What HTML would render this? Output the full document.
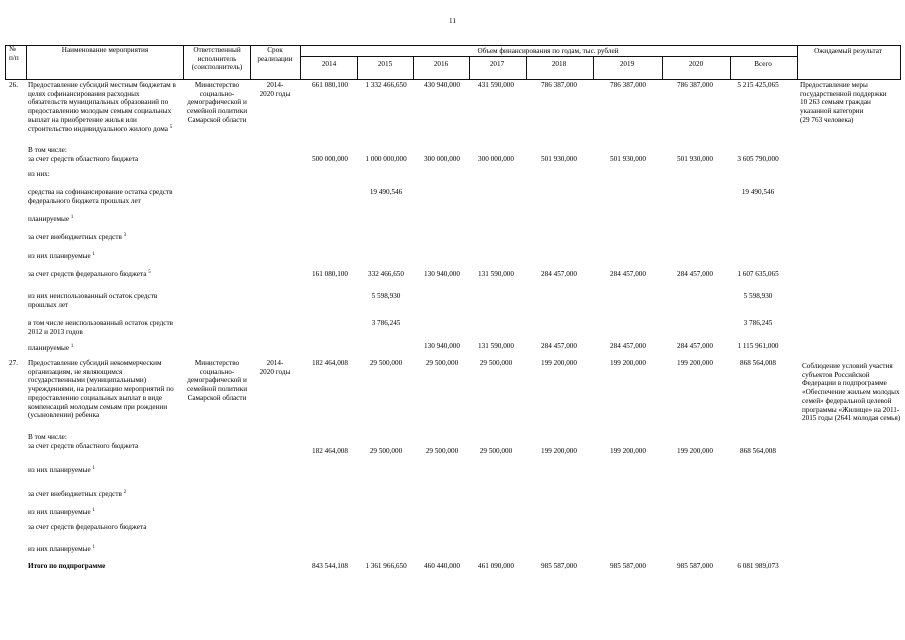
<!DOCTYPE html>
<html><head><meta charset="utf-8"><style>
body{margin:0;width:905px;height:640px;background:#fff;position:relative;overflow:hidden;font-family:"Liberation Serif","DejaVu Serif",serif;color:#000;font-size:7.2px;line-height:8.7px}
.t{position:absolute;white-space:nowrap}
.n{position:absolute;white-space:nowrap;transform:translateX(-50%)}
.c{position:absolute;white-space:nowrap;text-align:center;transform:translateX(-50%)}
.h{position:absolute;background:#111;height:1px}
.v{position:absolute;background:#111;width:1px}
sup{font-size:4.8px;vertical-align:3px;line-height:0}
</style></head><body>
<div class="t" style="left:449px;top:17px">11</div>
<div class="h" style="left:5px;top:45px;width:896px"></div>
<div class="h" style="left:300px;top:56px;width:497px"></div>
<div class="h" style="left:5px;top:79px;width:896px"></div>
<div class="v" style="left:5px;top:45px;height:35px"></div>
<div class="v" style="left:26px;top:45px;height:35px"></div>
<div class="v" style="left:183px;top:45px;height:35px"></div>
<div class="v" style="left:250px;top:45px;height:35px"></div>
<div class="v" style="left:300px;top:45px;height:35px"></div>
<div class="v" style="left:357px;top:56px;height:24px"></div>
<div class="v" style="left:413px;top:56px;height:24px"></div>
<div class="v" style="left:469px;top:56px;height:24px"></div>
<div class="v" style="left:526px;top:56px;height:24px"></div>
<div class="v" style="left:593px;top:56px;height:24px"></div>
<div class="v" style="left:662px;top:56px;height:24px"></div>
<div class="v" style="left:730px;top:56px;height:24px"></div>
<div class="v" style="left:797px;top:45px;height:35px"></div>
<div class="v" style="left:900px;top:45px;height:35px"></div>
<div class="t" style="left:9px;top:45px">№<br>п/п</div>
<div class="c" style="left:105px;top:46px">Наименование мероприятия</div>
<div class="c" style="left:217px;top:46px">Ответственный<br>исполнитель<br>(соисполнитель)</div>
<div class="c" style="left:275px;top:46px">Срок<br>реализации</div>
<div class="c" style="left:548px;top:47px">Объем финансирования по годам, тыс. рублей</div>
<div class="c" style="left:848px;top:47px">Ожидаемый результат</div>
<div class="c" style="left:329px;top:60px">2014</div>
<div class="c" style="left:385px;top:60px">2015</div>
<div class="c" style="left:441px;top:60px">2016</div>
<div class="c" style="left:497px;top:60px">2017</div>
<div class="c" style="left:559px;top:60px">2018</div>
<div class="c" style="left:627px;top:60px">2019</div>
<div class="c" style="left:696px;top:60px">2020</div>
<div class="c" style="left:763px;top:60px">Всего</div>

<div class="t" style="left:9px;top:81px">26.</div>
<div class="t" style="left:28px;top:81px">Предоставление субсидий местным бюджетам в<br>целях софинансирования расходных<br>обязательств муниципальных образований по<br>предоставлению молодым семьям социальных<br>выплат на приобретение жилья или<br>строительство индивидуального жилого дома <sup>5</sup></div>
<div class="c" style="left:217px;top:81px">Министерство<br>социально-<br>демографической и<br>семейной политики<br>Самарской области</div>
<div class="c" style="left:275px;top:81px">2014-<br>2020 годы</div>
<div class="t" style="left:800px;top:81px">Предоставление меры<br>государственной поддержки<br>10 263 семьям граждан<br>указанной категории<br>(29 763 человека)</div>
<div class="n" style="left:330px;top:81px">661 080,100</div>
<div class="n" style="left:386px;top:81px">1 332 466,650</div>
<div class="n" style="left:442px;top:81px">430 940,000</div>
<div class="n" style="left:496px;top:81px">431 590,000</div>
<div class="n" style="left:559px;top:81px">786 387,000</div>
<div class="n" style="left:628px;top:81px">786 387,000</div>
<div class="n" style="left:695px;top:81px">786 387,000</div>
<div class="n" style="left:758px;top:81px">5 215 425,065</div>

<div class="t" style="left:28px;top:146px">В том числе:<br>за счет средств областного бюджета</div>
<div class="n" style="left:330px;top:155px">500 000,000</div>
<div class="n" style="left:386px;top:155px">1 000 000,000</div>
<div class="n" style="left:442px;top:155px">300 000,000</div>
<div class="n" style="left:496px;top:155px">300 000,000</div>
<div class="n" style="left:559px;top:155px">501 930,000</div>
<div class="n" style="left:628px;top:155px">501 930,000</div>
<div class="n" style="left:695px;top:155px">501 930,000</div>
<div class="n" style="left:758px;top:155px">3 605 790,000</div>

<div class="t" style="left:28px;top:170px">из них:</div>
<div class="t" style="left:28px;top:188px">средства на софинансирование остатка средств<br>федерального бюджета прошлых лет</div>
<div class="n" style="left:386px;top:188px">19 490,546</div>
<div class="n" style="left:758px;top:188px">19 490,546</div>
<div class="t" style="left:28px;top:215px">планируемые <sup>1</sup></div>
<div class="t" style="left:28px;top:233px">за счет внебюджетных средств <sup>3</sup></div>
<div class="t" style="left:28px;top:252px">из них планируемые <sup>1</sup></div>
<div class="t" style="left:28px;top:270px">за счет средств федерального бюджета <sup>5</sup></div>
<div class="n" style="left:330px;top:270px">161 080,100</div>
<div class="n" style="left:386px;top:270px">332 466,650</div>
<div class="n" style="left:442px;top:270px">130 940,000</div>
<div class="n" style="left:496px;top:270px">131 590,000</div>
<div class="n" style="left:559px;top:270px">284 457,000</div>
<div class="n" style="left:628px;top:270px">284 457,000</div>
<div class="n" style="left:695px;top:270px">284 457,000</div>
<div class="n" style="left:758px;top:270px">1 607 635,065</div>
<div class="t" style="left:28px;top:292px">из них неиспользованный остаток средств<br>прошлых лет</div>
<div class="n" style="left:386px;top:292px">5 598,930</div>
<div class="n" style="left:758px;top:292px">5 598,930</div>
<div class="t" style="left:28px;top:319px">в том числе неиспользованный остаток средств<br>2012 и 2013 годов</div>
<div class="n" style="left:386px;top:319px">3 786,245</div>
<div class="n" style="left:758px;top:319px">3 786,245</div>
<div class="t" style="left:28px;top:344px">планируемые <sup>1</sup></div>
<div class="n" style="left:442px;top:342px">130 940,000</div>
<div class="n" style="left:496px;top:342px">131 590,000</div>
<div class="n" style="left:559px;top:342px">284 457,000</div>
<div class="n" style="left:628px;top:342px">284 457,000</div>
<div class="n" style="left:695px;top:342px">284 457,000</div>
<div class="n" style="left:758px;top:342px">1 115 961,000</div>

<div class="t" style="left:9px;top:359px">27.</div>
<div class="t" style="left:28px;top:359px">Предоставление субсидий некоммерческим<br>организациям, не являющимся<br>государственными (муниципальными)<br>учреждениями, на реализацию мероприятий по<br>предоставлению социальных выплат в виде<br>компенсаций молодым семьям при рождении<br>(усыновлении) ребенка</div>
<div class="c" style="left:217px;top:359px">Министерство<br>социально-<br>демографической и<br>семейной политики<br>Самарской области</div>
<div class="c" style="left:275px;top:359px">2014-<br>2020 годы</div>
<div class="t" style="left:802px;top:362px">Соблюдение условий участия<br>субъектов Российской<br>Федерации в подпрограмме<br>«Обеспечение жильем молодых<br>семей» федеральной целевой<br>программы «Жилище» на 2011-<br>2015 годы (2641 молодая семья)</div>
<div class="n" style="left:330px;top:359px">182 464,008</div>
<div class="n" style="left:386px;top:359px">29 500,000</div>
<div class="n" style="left:442px;top:359px">29 500,000</div>
<div class="n" style="left:496px;top:359px">29 500,000</div>
<div class="n" style="left:559px;top:359px">199 200,000</div>
<div class="n" style="left:628px;top:359px">199 200,000</div>
<div class="n" style="left:695px;top:359px">199 200,000</div>
<div class="n" style="left:758px;top:359px">868 564,008</div>

<div class="t" style="left:28px;top:433px">В том числе:<br>за счет средств областного бюджета</div>
<div class="n" style="left:330px;top:447px">182 464,008</div>
<div class="n" style="left:386px;top:447px">29 500,000</div>
<div class="n" style="left:442px;top:447px">29 500,000</div>
<div class="n" style="left:496px;top:447px">29 500,000</div>
<div class="n" style="left:559px;top:447px">199 200,000</div>
<div class="n" style="left:628px;top:447px">199 200,000</div>
<div class="n" style="left:695px;top:447px">199 200,000</div>
<div class="n" style="left:758px;top:447px">868 564,008</div>
<div class="t" style="left:28px;top:466px">из них планируемые <sup>1</sup></div>
<div class="t" style="left:28px;top:490px">за счет внебюджетных средств <sup>2</sup></div>
<div class="t" style="left:28px;top:508px">из них планируемые <sup>1</sup></div>
<div class="t" style="left:28px;top:523px">за счет средств федерального бюджета</div>
<div class="t" style="left:28px;top:545px">из них планируемые <sup>1</sup></div>
<div class="t" style="left:28px;top:562px;font-weight:bold">Итого по подпрограмме</div>
<div class="n" style="left:330px;top:562px">843 544,108</div>
<div class="n" style="left:386px;top:562px">1 361 966,650</div>
<div class="n" style="left:442px;top:562px">460 440,000</div>
<div class="n" style="left:496px;top:562px">461 090,000</div>
<div class="n" style="left:559px;top:562px">985 587,000</div>
<div class="n" style="left:628px;top:562px">985 587,000</div>
<div class="n" style="left:695px;top:562px">985 587,000</div>
<div class="n" style="left:758px;top:562px">6 081 989,073</div>
</body></html>
